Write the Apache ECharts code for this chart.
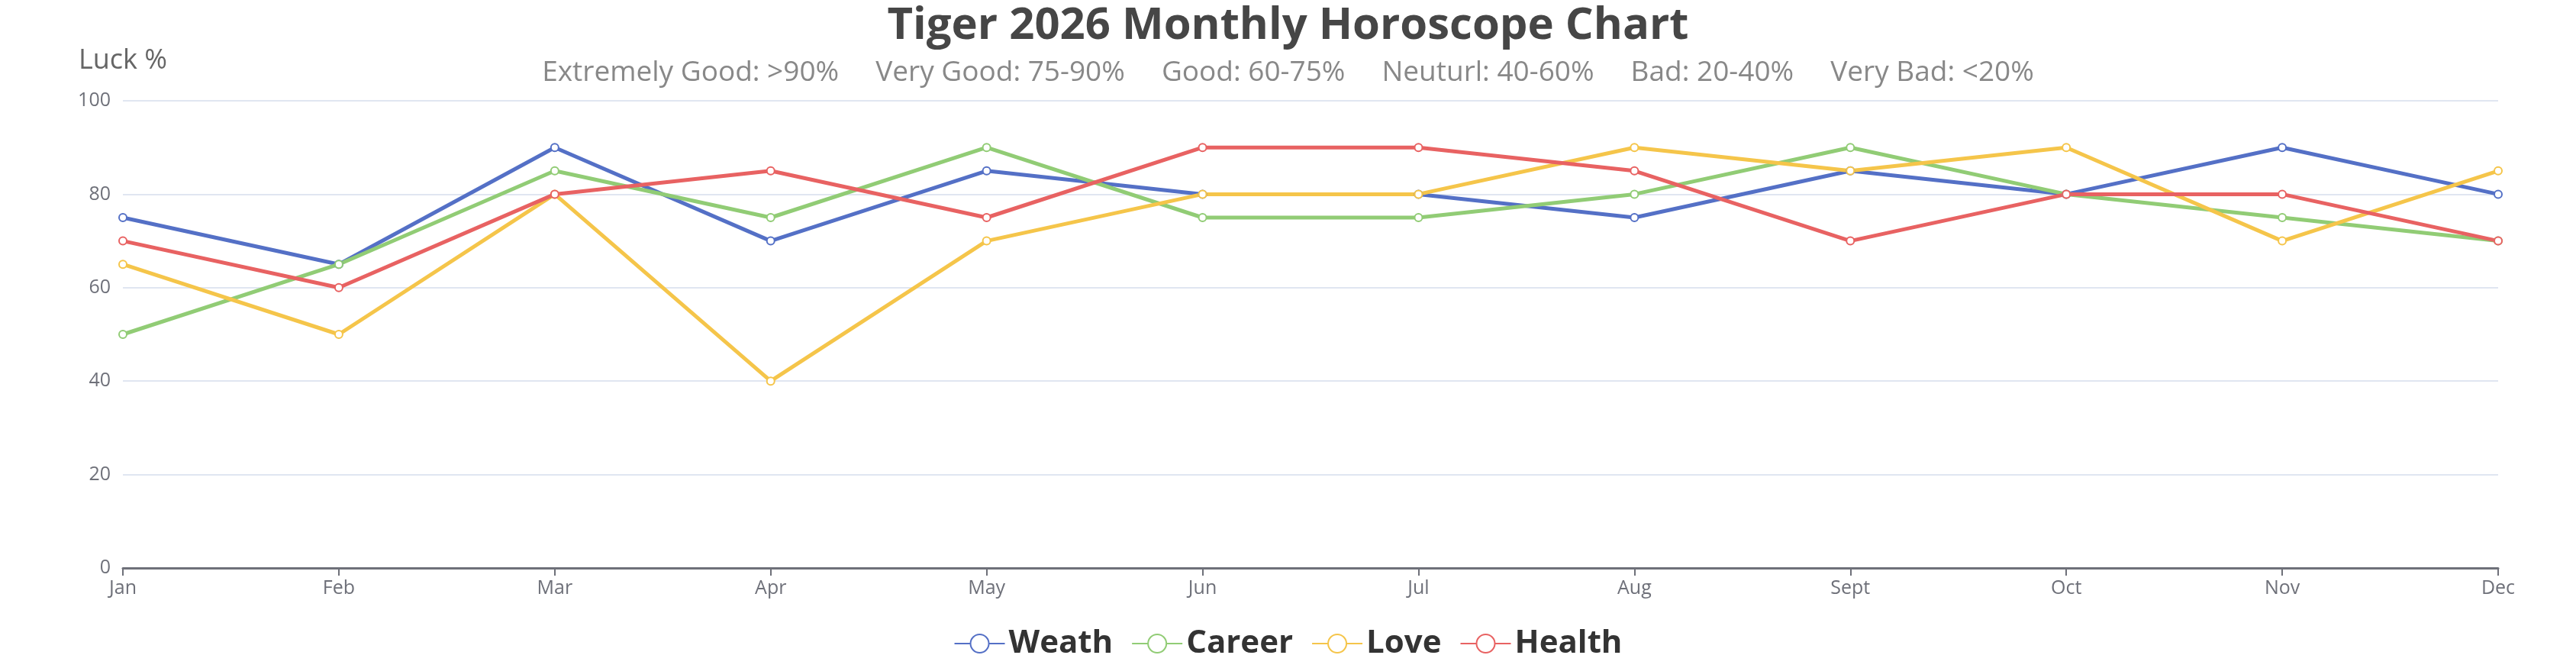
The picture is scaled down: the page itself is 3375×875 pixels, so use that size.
<!DOCTYPE html>
<html>
<head>
<meta charset="utf-8">
<script src="https://cdn.jsdelivr.net/npm/echarts@6/dist/echarts.min.js"></script>
<style>html,body{margin:0;padding:0;background:#fff}#main{width:3375px;height:875px}</style>
</head>
<body>
<div id="main"></div>
<script>
var months = ['Jan','Feb','Mar','Apr','May','Jun','Jul','Aug','Sept','Oct','Nov','Dec'];
var wealth = [75,65,90,70,85,80,80,75,85,80,90,80];
var career = [50,65,85,75,90,75,75,80,90,80,75,70];
var love   = [65,50,80,40,70,80,80,90,85,90,70,85];
var health = [70,60,80,85,75,90,90,85,70,80,80,70];
var names = ['Weath','Career','Love','Health'];
var colors = ['#5470c6','#91cc75','#f5c54a','#e86262'];

var font = '"Open Sans", "Noto Sans", sans-serif';
var series = [wealth, career, love, health].map(function (d, i) {
    return {
        name: names[i],
        type: 'line',
        data: d,
        symbol: 'emptyCircle',
        symbolSize: 10,
        lineStyle: { width: 5 },
        itemStyle: { borderWidth: 3 }
    };
});

var chart = echarts.init(document.getElementById('main'));
chart.setOption({
    color: colors,
    textStyle: { fontFamily: font },
    title: {
        text: 'Tiger 2026 Monthly Horoscope Chart',
        subtext: 'Extremely Good: >90%     Very Good: 75-90%     Good: 60-75%     Neuturl: 40-60%     Bad: 20-40%     Very Bad: <20%',
        left: 'center',
        top: 0,
        itemGap: 14,
        textStyle: { fontSize: 58, fontWeight: 'bold', color: '#464646', fontFamily: font },
        subtextStyle: { fontSize: 37, color: '#888', fontFamily: font }
    },
    legend: {
        data: names,
        bottom: 6,
        itemWidth: 66,
        itemHeight: 30,
        itemGap: 24,
        textStyle: { fontSize: 42, fontWeight: 'bold', color: '#333', fontFamily: font }
    },
    grid: { left: 161, right: 102, top: 132, bottom: 131 },
    xAxis: {
        type: 'category',
        boundaryGap: false,
        data: months,
        axisLine: { lineStyle: { color: '#6e7079', width: 3 } },
        axisTick: { lineStyle: { width: 2 }, length: 10 },
        axisLabel: { fontSize: 25, color: '#6e7079', margin: 14 }
    },
    yAxis: {
        type: 'value',
        name: 'Luck %',
        nameGap: 34,
        nameTextStyle: { fontSize: 36, color: '#666', align: 'center' },
        min: 0,
        max: 100,
        interval: 20,
        axisLabel: { fontSize: 25, color: '#6e7079', margin: 16 },
        splitLine: { lineStyle: { color: '#e0e6f1', width: 2 } }
    },
    series: series
});
</script>
</body>
</html>
